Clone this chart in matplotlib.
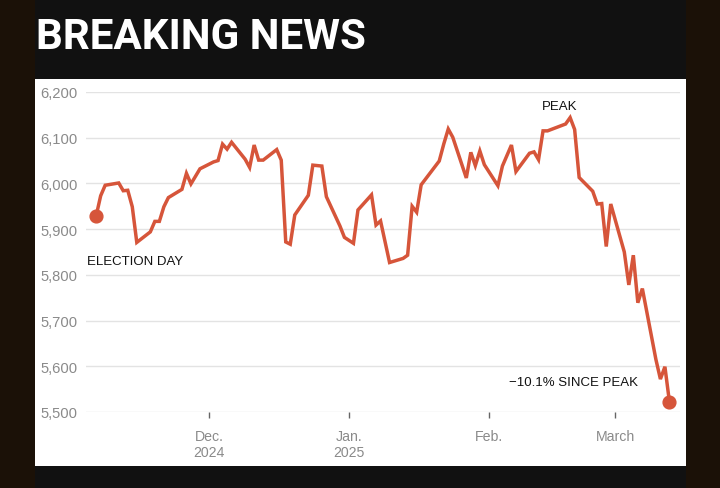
import matplotlib
matplotlib.use("Agg")
from matplotlib import pyplot as plt
from matplotlib.patches import Rectangle
import pandas as pd

# S&P 500 closes, election day to mid-March
dates = [
    "2024-11-06", "2024-11-07", "2024-11-08", "2024-11-11", "2024-11-12", "2024-11-13",
    "2024-11-14", "2024-11-15", "2024-11-18", "2024-11-19", "2024-11-20", "2024-11-21",
    "2024-11-22", "2024-11-25", "2024-11-26", "2024-11-27", "2024-11-29",
    "2024-12-02", "2024-12-03", "2024-12-04", "2024-12-05", "2024-12-06", "2024-12-09",
    "2024-12-10", "2024-12-11", "2024-12-12", "2024-12-13", "2024-12-16", "2024-12-17",
    "2024-12-18", "2024-12-19", "2024-12-20", "2024-12-23", "2024-12-24", "2024-12-26",
    "2024-12-27", "2024-12-30", "2024-12-31",
    "2025-01-02", "2025-01-03", "2025-01-06", "2025-01-07", "2025-01-08", "2025-01-10",
    "2025-01-13", "2025-01-14", "2025-01-15", "2025-01-16", "2025-01-17", "2025-01-21",
    "2025-01-22", "2025-01-23", "2025-01-24", "2025-01-27", "2025-01-28", "2025-01-29",
    "2025-01-30", "2025-01-31",
    "2025-02-03", "2025-02-04", "2025-02-05", "2025-02-06", "2025-02-07", "2025-02-10",
    "2025-02-11", "2025-02-12", "2025-02-13", "2025-02-14", "2025-02-18", "2025-02-19",
    "2025-02-20", "2025-02-21", "2025-02-24", "2025-02-25", "2025-02-26", "2025-02-27",
    "2025-02-28",
    "2025-03-03", "2025-03-04", "2025-03-05", "2025-03-06", "2025-03-07", "2025-03-10",
    "2025-03-11", "2025-03-12", "2025-03-13",
]
closes = [
    5929, 5973, 5996, 6001, 5984, 5985,
    5949, 5871, 5894, 5917, 5917, 5949,
    5969, 5987, 6022, 5999, 6032,
    6047, 6050, 6086, 6075, 6090, 6053,
    6035, 6084, 6051, 6051, 6074, 6051,
    5872, 5867, 5931, 5974, 6040, 6038,
    5971, 5907, 5882,
    5869, 5942, 5975, 5909, 5918, 5827,
    5836, 5843, 5950, 5937, 5997, 6049,
    6086, 6119, 6101, 6012, 6068, 6039,
    6071, 6041,
    5995, 6038, 6061, 6084, 6026, 6066,
    6069, 6052, 6115, 6115, 6130, 6144,
    6118, 6013, 5983, 5955, 5956, 5862,
    5955,
    5850, 5778, 5843, 5739, 5770, 5615,
    5572, 5599, 5522,
]
tick_dates = ["2024-12-01", "2025-01-01", "2025-02-01", "2025-03-01"]
tick_labels = ["Dec.\n2024", "Jan.\n2025", "Feb.", "March"]
y_ticks = [5500, 5600, 5700, 5800, 5900, 6000, 6100, 6200]
peak_date = "2025-02-19"

W, H = 720, 489
fig = plt.figure(figsize=(W / 100, H / 100), dpi=100)
fig.patch.set_facecolor("#1b1107")

# dark panel and white card, behind the axes
fig.patches.append(Rectangle((35 / W, 0), 651 / W, 1, transform=fig.transFigure,
                             facecolor="#111111", edgecolor="none", zorder=-2))
fig.patches.append(Rectangle((35 / W, 1 - 467 / H), 651 / W, 387 / H, transform=fig.transFigure,
                             facecolor="white", edgecolor="none", zorder=-1))

fig.text(36 / W, 1 - 49 / H, "BREAKING NEWS", color="white", fontsize=30.3,
         fontweight="bold", family="Roboto", va="baseline", ha="left")

ax = fig.add_axes([86 / W, 1 - 413 / H, 594 / W, 320 / H])
ax.set_facecolor("none")

x = pd.to_datetime(dates)
ax.plot(x, closes, color="#d6553a", lw=2.5, solid_joinstyle="miter", zorder=3)
ax.plot([x[0], x[-1]], [closes[0], closes[-1]], "o", color="#d6553a", ms=9.2,
        clip_on=False, zorder=4)

dec1 = pd.Timestamp("2024-12-01")
ax.set_xlim(dec1 - pd.Timedelta(days=27.25), dec1 + pd.Timedelta(days=104.34))
ax.set_ylim(5500, 6200)

ax.set_yticks(y_ticks)
ax.set_yticklabels([f"{v:,}" for v in y_ticks])
ax.set_xticks(pd.to_datetime(tick_dates))
ax.set_xticklabels(tick_labels, linespacing=1.25)
ax.yaxis.grid(True, color="#e3e3e3", lw=1)
ax.set_axisbelow(True)
for s in ax.spines.values():
    s.set_visible(False)

ax.tick_params(axis="y", length=0, pad=6, labelsize=10.6, labelcolor="#8a8a8a")
ax.tick_params(axis="x", length=4, width=1, color="#666666", pad=8,
               labelsize=10.2, labelcolor="#8a8a8a")
for lab in ax.get_xticklabels() + ax.get_yticklabels():
    lab.set_family("Liberation Sans")

note = dict(fontsize=9.5, color="#121212", family="Liberation Sans",
            textcoords="offset pixels")
ax.annotate("ELECTION DAY", (x[0], closes[0]), xytext=(-9, -45),
            ha="left", va="center", **note)
pk = dates.index(peak_date)
ax.annotate("PEAK", (x[pk], closes[pk]), xytext=(-11, 12),
            ha="center", va="center", **note)
ax.annotate("\u221210.1% SINCE PEAK", (x[-1], closes[-1]), xytext=(-31, 20),
            ha="right", va="center", **note)

fig.savefig("out.png", dpi=100, facecolor=fig.get_facecolor())
